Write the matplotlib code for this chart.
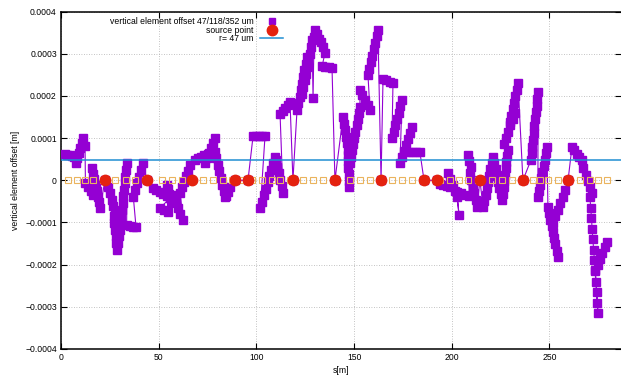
import matplotlib
matplotlib.use("Agg")
import matplotlib.pyplot as plt
import numpy as np
from matplotlib.lines import Line2D

plt.rcParams['font.family'] = ['Liberation Sans', 'DejaVu Sans']

# vertical element offsets, s [m] and offset [um], in the order they are connected
s_elem = [2.0, 3.2, 4.4, 5.6, 6.8,
          7.5, 8.3, 9.0, 9.8, 10.5, 11.3,
          12.3,
          12.5, 13.8, 15.1, 16.4,
          15.9, 16.5, 17.1, 17.7, 18.2, 18.8, 19.4, 20.0,
          22.5,
          24.1, 25.0, 25.9, 26.7, 27.6,
          27.0, 27.3, 27.7, 28.0, 28.4, 28.7,
          29.2, 29.6, 30.0, 30.3, 30.7, 31.1, 31.5, 31.9, 32.3, 32.7, 33.0, 33.4, 33.8,
          33.6, 35.2, 36.8, 38.4,
          37.0, 38.0, 39.0, 40.0, 41.0, 42.0,
          44.0,
          47.0, 48.8, 50.5, 52.3, 54.0, 55.8,
          50.7, 52.7, 54.7,
          54.0, 54.8, 55.5, 56.3, 57.0,
          57.3, 58.6, 59.9, 61.1, 62.4,
          61.0, 62.0, 63.0, 64.0, 65.0, 66.0,
          68.6, 70.2, 71.8, 73.4, 75.0,
          73.7, 74.7, 75.7, 76.8, 77.8, 78.8,
          78.8, 79.5, 80.3, 81.0, 81.7, 82.4, 83.2, 83.9,
          84.2, 85.3, 86.5,
          89.0, 95.7,
          98.3, 99.8, 101.3, 102.9, 104.4,
          102.0, 102.9, 103.9, 104.8, 105.8, 106.7, 107.6, 108.6, 109.5,
          110.0, 110.7, 111.4, 112.2, 112.9, 113.6,
          112.1, 113.4, 114.7, 116.0, 117.2,
          118.7,
          120.8, 121.4, 122.1, 122.7, 123.4, 124.0, 124.6, 125.3, 125.9,
          123.4, 124.0, 124.7, 125.3, 126.0, 126.6, 127.2, 127.9, 128.5,
          129.0,
          129.5, 130.0, 131.0, 132.0, 133.0, 134.0, 135.1,
          133.6, 135.3, 137.0, 138.7,
          140.2,
          144.3, 144.8, 145.3, 145.9, 146.4, 146.9,
          146.9, 147.0, 147.1, 147.2, 147.3, 147.4,
          147.9, 148.5, 149.0, 149.6, 150.2, 150.7, 151.3, 151.9, 152.4, 153.0,
          153.0, 154.3, 155.6, 156.9, 158.1,
          157.1, 157.8, 158.6, 159.3, 160.0, 160.7, 161.5, 162.2,
          163.8,
          164.8, 166.5, 168.2, 169.9,
          169.4, 170.3, 171.1, 172.0, 172.8, 173.7, 174.5,
          173.5, 174.5, 175.5, 176.6, 177.6, 178.6, 179.6,
          177.6, 179.6, 181.7, 183.7,
          185.8, 192.4,
          194.0, 195.7, 197.4, 199.1,
          198.2, 199.3, 200.5, 201.6, 202.7,
          203.7,
          202.7, 204.8, 206.9, 209.0,
          208.3, 209.0, 209.8,
          209.3, 210.0, 210.7, 211.5, 212.2, 212.9,
          214.4,
          216.0, 216.6, 217.3, 217.9, 218.5, 219.2, 219.8, 220.5, 221.1,
          221.7, 222.4, 223.0, 223.7, 224.3, 225.0, 225.7,
          226.1, 226.5, 226.9, 227.3, 227.6, 228.0, 228.3, 228.6,
          226.5, 227.7, 228.9, 230.0, 231.2, 232.3,
          229.8, 230.5, 231.2, 231.8, 232.5, 233.2, 233.9,
          236.4,
          240.5, 240.9, 241.2, 241.6, 241.9, 242.3, 242.7, 243.0, 243.4, 243.7, 244.1,
          244.1, 244.7, 245.2, 245.8, 246.4, 247.0, 247.5, 248.1, 248.7,
          249.2, 249.8, 250.5, 251.1, 251.8, 252.4, 253.0, 253.7, 254.3,
          251.8, 253.0, 254.3, 255.5, 256.7, 257.9,
          259.5,
          261.5, 262.8, 264.1, 265.3, 266.6,
          267.4, 268.5, 269.6, 270.7, 271.8,
          270.7, 271.1, 271.5, 271.8, 272.2, 272.6, 273.0, 273.3, 273.7, 274.1, 274.4, 274.8,
          273.5, 274.7, 275.9, 277.0, 278.2, 279.4]
y_elem_um = [62, 61, 59, 57, 55,
             42, 54, 65, 77, 88, 100,
             82,
             -6, -16, -26, -35,
             29, 15, 2, -12, -25, -39, -52, -66,
             0,
             -16, -31, -46, -62, -77,
             -85, -101, -117, -133, -149, -165,
             -149, -133, -117, -102, -86, -70, -54, -38, -22, -7, 9, 25, 41,
             -106, -108, -110, -111,
             -39, -23, -7, 8, 24, 40,
             0,
             -18, -23, -28, -32, -37, -42,
             -66, -70, -75,
             -10, -21, -32, -44, -55,
             -35, -50, -65, -80, -94,
             -30, -17, -4, 10, 23, 36,
             48, 52, 55, 59, 62,
             41, 53, 65, 76, 88, 100,
             67, 52, 36, 21, 6, -10, -25, -40,
             -38, -27, -16,
             0, 0,
             105, 105, 105, 104, 104,
             -66, -51, -36, -21, -5, 10, 25, 40, 55,
             48, 32, 17, 1, -14, -30,
             158, 165, 172, 179, 186,
             0,
             167, 183, 198, 214, 229, 245, 261, 276, 292,
             205, 221, 237, 253, 268, 284, 300, 316, 332,
             195,
             340, 356, 346, 336, 327, 317, 302,
             270, 269, 268, 267,
             0,
             150, 134, 119, 103, 88, 72,
             60, 45, 30, 14, -1, -16,
             41, 56, 71, 85, 100, 115, 130, 145, 159, 174,
             214, 202, 190, 178, 167,
             250, 265, 280, 295, 311, 326, 341, 356,
             0,
             240, 237, 234, 231,
             100, 115, 130, 145, 160, 175, 190,
             41, 55, 69, 84, 98, 112, 126,
             67, 67, 66, 66,
             0, 0,
             -8, -11, -14, -17,
             17, 3, -12, -26, -40,
             -83,
             -28, -31, -34, -37,
             60, 46, 32,
             17, 1, -15, -31, -47, -63,
             0,
             -63, -48, -34, -19, -4, 11, 26, 40, 55,
             40, 26, 11, -4, -18, -33, -47,
             -32, -17, -2, 13, 28, 43, 58, 72,
             85, 100, 115, 130, 145, 160,
             138, 153, 169, 184, 199, 215, 230,
             0,
             48, 64, 80, 96, 112, 129, 145, 161, 177, 193, 209,
             -40, -25, -10, 5, 20, 34, 49, 64, 79,
             -63, -78, -93, -108, -123, -137, -152, -167, -182,
             -101, -85, -70, -54, -39, -23,
             0,
             79, 71, 63, 56, 48,
             28, 13, -1, -16, -30,
             -40, -65, -90, -115, -140, -165, -190, -215, -240, -265, -290, -315,
             -213, -200, -186, -173, -159, -146]

# source points
s_source = [22.5, 44.0, 67.0, 89.0, 95.7, 118.7, 140.2, 163.8,
            185.8, 192.4, 214.4, 236.4, 259.5]

# open squares at zero
s_marker = [3.6, 8.2, 12.3, 16.4, 21.5, 27.6, 33.3, 37.9, 43.0, 51.7,
            56.8, 61.9, 67.0, 72.7, 77.8, 82.9, 87.5, 92.6, 97.7, 102.9,
            108.0, 112.1, 117.2, 123.8, 129.0, 134.1, 139.2, 147.9, 153.0,
            158.1, 163.3, 169.4, 174.5, 179.6, 184.7, 194.0, 199.1, 203.7,
            208.3, 213.4, 220.6, 225.7, 230.8, 235.9, 241.6, 245.1, 249.2,
            254.3, 259.5, 265.6, 270.7, 274.8, 279.4]

r_level = 47e-6

fig = plt.figure(figsize=(6.21, 3.77), dpi=100)
ax = fig.add_axes([61 / 621, 28 / 377, 560 / 621, 337.4 / 377])

s_elem = np.array(s_elem)
y_elem = np.array(y_elem_um) * 1e-6

ax.plot(s_elem, y_elem, color='#9400d3', lw=0.8, marker='s', ms=5.5,
        mec='#9400d3', mfc='#9400d3', zorder=3)
ax.plot(s_source, np.zeros(len(s_source)), 'o', color='#e4220f', ms=7.5,
        zorder=5)
ax.axhline(r_level, color='#1f8ed2', lw=1.1, zorder=4)
ax.plot(s_marker, np.zeros(len(s_marker)), 's', mfc='none', mec='#eab45e',
        ms=4.5, mew=0.8, zorder=4)

ax.set_xlim(0, 286.6)
ax.set_ylim(-0.0004, 0.0004)
ax.set_xticks([0, 50, 100, 150, 200, 250])
yt = [-0.0004, -0.0003, -0.0002, -0.0001, 0, 0.0001, 0.0002, 0.0003, 0.0004]
ax.set_yticks(yt)
ax.set_yticklabels([('%g' % v).replace('-', '\u2212') for v in yt])
ax.tick_params(direction='in', length=4, width=0.8, labelsize=6.2,
               top=True, right=True, pad=3)
ax.grid(True, color='#b0b0b0', lw=0.6, linestyle=(0, (1, 2)))
ax.set_axisbelow(True)
for sp in ax.spines.values():
    sp.set_linewidth(1.1)
ax.spines['right'].set_visible(False)

ax.set_xlabel('s[m]', fontsize=6.2, labelpad=3)
ax.set_ylabel('vertical element offset [m]', fontsize=6.2, labelpad=4)

handles = [Line2D([], [], ls='none', marker='s', color='#9400d3', ms=5.0),
           Line2D([], [], ls='none', marker='o', color='#e4220f', ms=7.5),
           Line2D([], [], color='#1f8ed2', lw=1.1)]
labels = ['vertical element offset 47/118/352 um', 'source point', 'r= 47 um']
ax.legend(handles, labels, loc='upper right', bbox_to_anchor=(287 / 621, 1 - 13 / 377),
          bbox_transform=fig.transFigure, markerfirst=False, frameon=False,
          fontsize=6.2, handlelength=2.6, labelspacing=-0.08, borderpad=0,
          handletextpad=0.8)

fig.savefig('out.png', dpi=100)
